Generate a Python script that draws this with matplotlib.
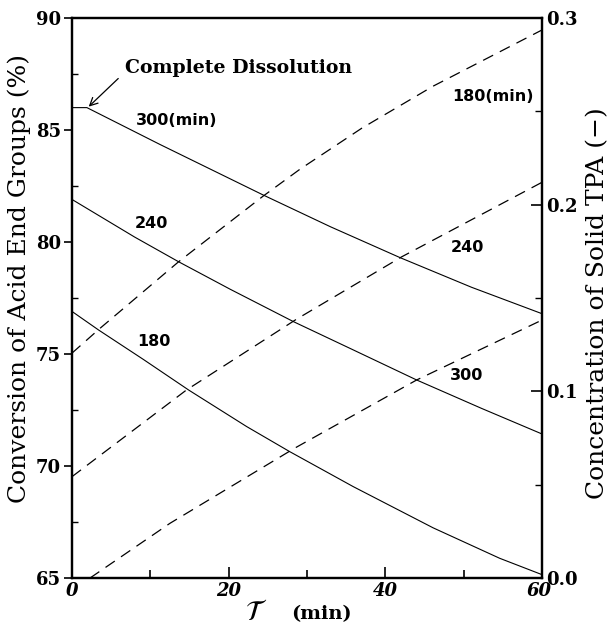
import matplotlib
matplotlib.use("Agg")
from matplotlib import pyplot as plt
from matplotlib.ticker import MultipleLocator
import matplotlib.transforms as mtransforms

# conversion of acid end groups (%) - solid lines
t_conv300 = [0, 1.9, 11.2, 24.4, 33.0, 41.9, 51.0, 60]
conv300 = [86.0, 86.0, 84.36, 82.1, 80.68, 79.3, 77.98, 76.8]
t_conv240 = [0, 8.0, 13.6, 20.2, 28.3, 35.5, 44.0, 52.3, 60]
conv240 = [81.9, 80.22, 79.12, 77.89, 76.44, 75.25, 73.84, 72.57, 71.43]
t_conv180 = [0, 3.4, 9.1, 14.9, 22.3, 27.8, 35.9, 46.1, 54.6, 60]
conv180 = [76.9, 76.07, 74.76, 73.39, 71.76, 70.64, 69.08, 67.24, 65.88, 65.15]

# concentration of solid TPA (-) - dashed lines
t_tpa180 = [0, 3.5, 13.6, 24.4, 29.1, 37.0, 46.1, 60]
tpa180 = [0.1205, 0.1335, 0.1694, 0.2046, 0.219, 0.241, 0.2635, 0.2936]
t_tpa240 = [0, 14.6, 28.6, 42.1, 60]
tpa240 = [0.0543, 0.1007, 0.1385, 0.1721, 0.212]
t_tpa300 = [2.3, 12.5, 28.4, 44.0, 60]
tpa300 = [0.0, 0.0293, 0.0695, 0.1061, 0.1382]

serif = "DejaVu Serif"
sans = "DejaVu Sans"

fig = plt.figure(figsize=(6.13, 6.28), dpi=100)
ax = fig.add_axes([0.1175, 0.0796, 0.7667, 0.8917])
ax2 = ax.twinx()

for t, c in [(t_conv300, conv300), (t_conv240, conv240), (t_conv180, conv180)]:
    ax.plot(t, c, color="black", lw=0.8)

for t, c in [(t_tpa180, tpa180), (t_tpa240, tpa240), (t_tpa300, tpa300)]:
    ax2.plot(t, c, color="black", lw=0.9, dashes=(9, 6))

ax.set_xlim(0, 60)
ax.set_ylim(65, 90)
ax2.set_ylim(0, 0.3)

ax.xaxis.set_major_locator(MultipleLocator(20))
ax.xaxis.set_minor_locator(MultipleLocator(10))
ax.yaxis.set_major_locator(MultipleLocator(5))
ax.yaxis.set_minor_locator(MultipleLocator(2.5))
ax2.yaxis.set_major_locator(MultipleLocator(0.1))
ax2.yaxis.set_minor_locator(MultipleLocator(0.05))

ax.tick_params(axis="x", which="major", direction="in", length=8, width=1.2, pad=3)
ax.tick_params(axis="x", which="minor", direction="in", length=6, width=1.2)
ax.tick_params(axis="y", which="major", direction="out", length=6, width=1.2, pad=2)
ax.tick_params(axis="y", which="minor", direction="in", length=4, width=1.0)
ax2.tick_params(axis="y", which="major", direction="in", length=8, width=1.2, pad=3)
ax2.tick_params(axis="y", which="minor", direction="in", length=5, width=1.0)

for a in (ax, ax2):
    for s in a.spines.values():
        s.set_linewidth(1.6)

ax.set_xticks([0, 20, 40, 60])
ax.set_xticklabels(["0", "20", "40", "60"], fontfamily=serif, fontweight="bold",
                   fontsize=13, fontstyle="italic")
ax.set_yticks([65, 70, 75, 80, 85, 90])
ax.set_yticklabels(["65", "70", "75", "80", "85", "90"], fontfamily=serif,
                   fontweight="bold", fontsize=13)
ax2.set_yticks([0, 0.1, 0.2, 0.3])
ax2.set_yticklabels(["0.0", "0.1", "0.2", "0.3"], fontfamily=serif,
                    fontweight="bold", fontsize=13)

# nudge the "60" a bit left like the original
lab60 = ax.get_xticklabels()[-1]
lab60.set_transform(lab60.get_transform() +
                    mtransforms.ScaledTranslation(-3 / 100, 0, fig.dpi_scale_trans))

ax.set_ylabel("Conversion of Acid End Groups (%)", fontfamily=serif,
              fontsize=18)
ax.yaxis.set_label_coords(-0.088, 0.535)
ax2.set_ylabel("Concentration of Solid TPA (\u2212)", fontfamily=serif,
               fontsize=18, rotation=90)
ax2.yaxis.set_label_coords(1.118, 0.49)
ax2.yaxis.label.set_va("center")

fig.text(0.418, 0.025, r"$\mathcal{T}$", fontsize=20, ha="center", va="center")
fig.text(0.525, 0.022, "(min)", fontfamily=serif, fontweight="bold", fontsize=14,
         ha="center", va="center")

ax.text(6.8, 87.75, "Complete Dissolution", fontfamily=serif, fontweight="bold",
        fontsize=13.6, ha="left", va="center")
ax.annotate("", xy=(2.0, 86.0), xytext=(5.9, 87.3),
            arrowprops=dict(arrowstyle="->", color="black", lw=0.9,
                            shrinkA=0, shrinkB=1, mutation_scale=14))

lab_kw = dict(fontfamily=sans, fontweight="bold", fontsize=11.5, ha="left",
              va="center")
ax.text(8.2, 85.41, "300(min)", **lab_kw)
ax.text(8.0, 80.83, "240", **lab_kw)
ax.text(8.3, 75.55, "180", **lab_kw)
ax.text(48.5, 86.49, "180(min)", **lab_kw)
ax.text(48.3, 79.76, "240", **lab_kw)
ax.text(48.3, 74.02, "300", **lab_kw)

fig.savefig("out.png", dpi=100)
